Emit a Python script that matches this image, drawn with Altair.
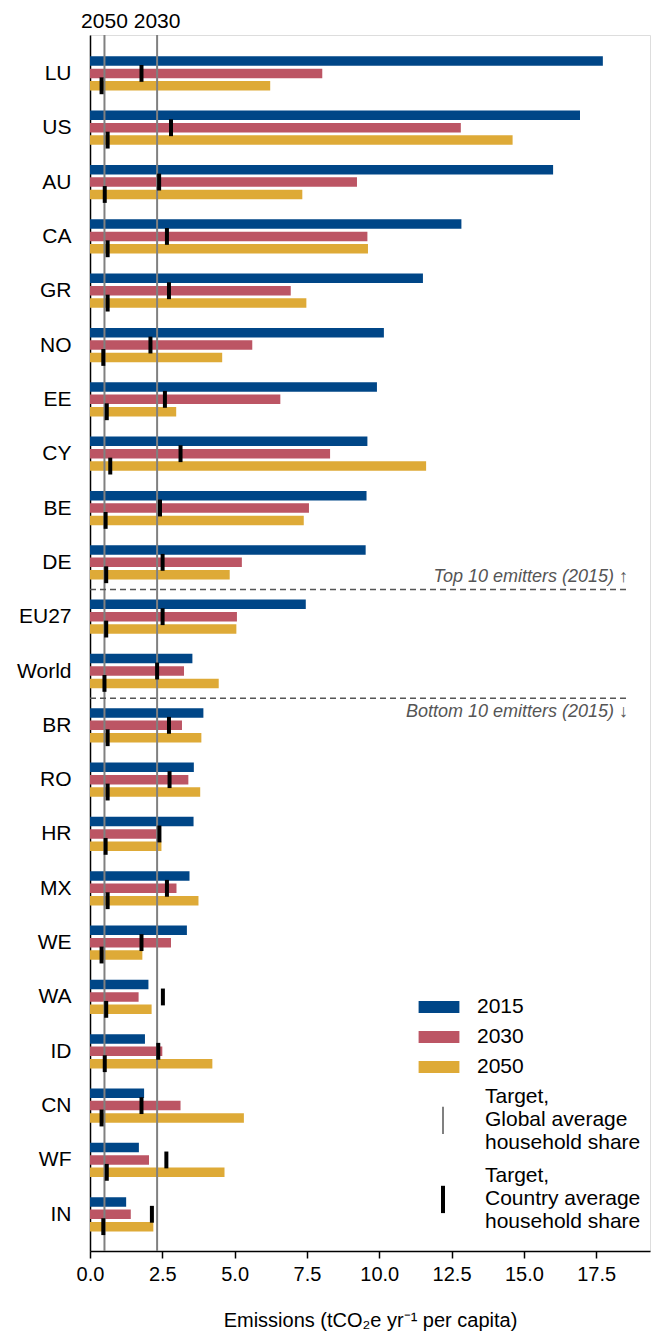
import altair as alt
import pandas as pd

# ---------------- data ----------------
countries = ["LU", "US", "AU", "CA", "GR", "NO", "EE", "CY", "BE", "DE", "EU27",
             "World", "BR", "RO", "HR", "MX", "WE", "WA", "ID", "CN", "WF", "IN"]
e2015 = [17.73, 16.94, 16.01, 12.84, 11.51, 10.16, 9.92, 9.59, 9.56, 9.53, 7.46,
         3.54, 3.92, 3.59, 3.58, 3.44, 3.35, 2.02, 1.90, 1.87, 1.69, 1.25]
e2030 = [8.03, 12.82, 9.23, 9.59, 6.94, 5.61, 6.58, 8.30, 7.57, 5.25, 5.08,
         3.25, 3.18, 3.40, 2.35, 2.99, 2.80, 1.68, 2.50, 3.13, 2.04, 1.41]
e2050 = [6.23, 14.61, 7.34, 9.61, 7.48, 4.57, 2.98, 11.62, 7.39, 4.83, 5.06,
         4.45, 3.85, 3.81, 2.47, 3.75, 1.81, 2.13, 4.23, 5.32, 4.65, 2.19]
target2030 = [1.78, 2.80, 2.39, 2.66, 2.73, 2.09, 2.59, 3.13, 2.42, 2.51, 2.51,
              2.32, 2.73, 2.75, 2.40, 2.66, 1.78, 2.52, 2.36, 1.78, 2.64, 2.14]
target2050 = [0.40, 0.61, 0.51, 0.61, 0.61, 0.46, 0.58, 0.70, 0.54, 0.56, 0.56,
              0.50, 0.61, 0.61, 0.54, 0.61, 0.40, 0.56, 0.51, 0.40, 0.58, 0.46]
global_years = ["2050", "2030"]
global_targets = [0.50, 2.32]
series_names = ["2015", "2030", "2050"]
series_colors = ["#004687", "#BC5564", "#DEAA37"]
target_keys = ["Target,|Global average|household share",
               "Target,|Country average|household share"]
target_colors = ["#808080", "#000000"]
sep_after = ["DE", "World"]
sep_labels = ["Top 10 emitters (2015) \u2191", "Bottom 10 emitters (2015) \u2193"]
sep_side = ["above", "below"]
x_ticks = [0.0, 2.5, 5.0, 7.5, 10.0, 12.5, 15.0, 17.5]

# ---------------- tables ----------------
bar_rows = []
for i, c in enumerate(countries):
    for k, (s, vals) in enumerate(zip(series_names, [e2015, e2030, e2050])):
        bar_rows.append({"country": c, "row": i, "sidx": k, "series": s, "value": vals[i]})
bars_df = pd.DataFrame(bar_rows)

tick_rows = []
for i, c in enumerate(countries):
    tick_rows.append({"country": c, "row": i, "sidx": 1, "value": target2030[i], "kind": target_keys[1]})
    tick_rows.append({"country": c, "row": i, "sidx": 2, "value": target2050[i], "kind": target_keys[1]})
ticks_df = pd.DataFrame(tick_rows)

global_df = pd.DataFrame({"year": global_years, "value": global_targets,
                          "kind": [target_keys[0]] * len(global_years)})
sep_df = pd.DataFrame({"after": sep_after, "label": sep_labels, "side": sep_side,
                       "row": [countries.index(a) for a in sep_after]})

# ---------------- scales / axes ----------------
FONT = "Liberation Sans"
OFFSET = 0.228        # bar spacing within a group (row units)
HALF_TICK = 0.155     # half length of country target marker (row units)
SEP_END = 18.6
xscale = alt.Scale(domain=[0, 19.36], nice=False, zero=True)
yscale = alt.Scale(domain=[-0.615, 21.584], nice=False, zero=False, reverse=True)

label_expr = "[" + ",".join("'" + c + "'" for c in countries) + "][datum.value]"

xaxis = alt.Axis(values=x_ticks, format=".1f", tickSize=7, tickWidth=1.5, tickColor="black",
                 domainColor="black", domainWidth=1.5, labelFontSize=20, labelColor="black",
                 labelPadding=6, labelFlush=False, grid=False,
                 title="Emissions (tCO\u2082e  yr\u207b\u00b9 per capita)",
                 titleFontSize=20, titleFontWeight="normal", titleColor="black", titlePadding=26)
yaxis = alt.Axis(values=list(range(len(countries))), labelExpr=label_expr, ticks=False,
                 labelPadding=19, labelFontSize=21, labelColor="black", domainColor="black",
                 domainWidth=1.5, title=None, grid=False)

bar_legend = alt.Legend(
    orient="none", legendX=337, legendY=960, title=None,
    symbolType="M-1.7,-0.49H1.7V0.49H-1.7Z", symbolSize=576, symbolStrokeWidth=0,
    labelFontSize=21, labelFont=FONT, labelColor="black", labelLimit=400, labelOffset=26,
    rowPadding=8, padding=0,
)
target_legend = alt.Legend(
    orient="none", legendX=337, legendY=1047, title=None,
    symbolType="M0,0.7V2.65", symbolSize=784,
    labelFontSize=21, labelFont=FONT, labelColor="black", labelLimit=400, labelOffset=26,
    rowPadding=7, padding=0, labelExpr="split(datum.label, '|')",
)
stroke_scale = alt.Scale(domain=target_keys, range=target_colors)
sw_scale = alt.Scale(domain=target_keys, range=[2, 4])

# ---------------- layers ----------------
bars = alt.Chart(bars_df).transform_calculate(
    pos=f"datum.row + (datum.sidx - 1) * {OFFSET}"
).mark_bar(orient="horizontal", size=9.5).encode(
    x=alt.X("value:Q", scale=xscale, axis=xaxis),
    y=alt.Y("pos:Q", scale=yscale, axis=yaxis),
    color=alt.Color("series:N", scale=alt.Scale(domain=series_names, range=series_colors),
                    legend=bar_legend),
)

global_rules = alt.Chart(global_df).mark_rule().encode(
    x=alt.X("value:Q", scale=xscale),
    stroke=alt.Stroke("kind:N", scale=stroke_scale, legend=target_legend),
    strokeWidth=alt.StrokeWidth("kind:N", scale=sw_scale, legend=target_legend),
)
global_text = alt.Chart(global_df).mark_text(fontSize=21, font=FONT, baseline="alphabetic",
                                             color="black").encode(
    x=alt.X("value:Q", scale=xscale), y=alt.value(-7), text="year:N"
)

markers = alt.Chart(ticks_df).transform_calculate(
    y0=f"datum.row + (datum.sidx - 1) * {OFFSET} - {HALF_TICK}",
    y1=f"datum.row + (datum.sidx - 1) * {OFFSET} + {HALF_TICK}",
).mark_rule().encode(
    x=alt.X("value:Q", scale=xscale),
    y=alt.Y("y0:Q", scale=yscale), y2="y1:Q",
    stroke=alt.Stroke("kind:N", scale=stroke_scale, legend=target_legend),
    strokeWidth=alt.StrokeWidth("kind:N", scale=sw_scale, legend=target_legend),
)

sep_base = alt.Chart(sep_df).transform_calculate(pos="datum.row + 0.5")
sep_rules = sep_base.mark_rule(strokeDash=[6, 4], color="#555555", strokeWidth=1.5).encode(
    y=alt.Y("pos:Q", scale=yscale), x=alt.datum(0), x2=alt.datum(SEP_END)
)
sep_above = sep_base.transform_filter("datum.side == 'above'").mark_text(
    align="right", baseline="bottom", dy=-4, fontSize=18, font=FONT, fontStyle="italic", color="#555555"
).encode(y=alt.Y("pos:Q", scale=yscale), x=alt.datum(SEP_END), text="label:N")
sep_below = sep_base.transform_filter("datum.side == 'below'").mark_text(
    align="right", baseline="top", dy=5, fontSize=18, font=FONT, fontStyle="italic", color="#555555"
).encode(y=alt.Y("pos:Q", scale=yscale), x=alt.datum(SEP_END), text="label:N")

chart = alt.layer(bars, global_rules, markers, sep_rules, sep_above, sep_below, global_text).properties(
    width=560, height=1216,
    autosize=alt.AutoSizeParams(type="none"),
    padding={"left": 90, "top": 35, "right": 3, "bottom": 84},
).configure_view(stroke=None).configure(font=FONT)

chart.save("out.html", embed_options={"renderer": "svg", "actions": False})
